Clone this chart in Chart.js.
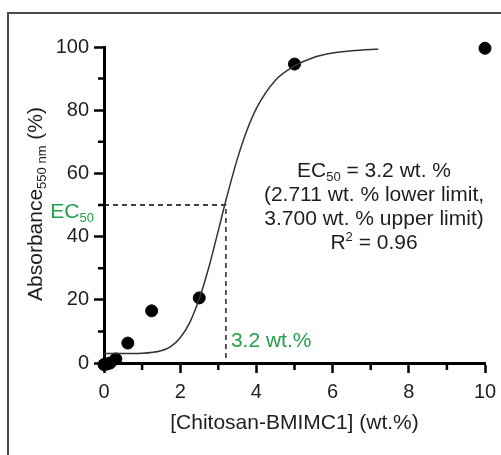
<!DOCTYPE html>
<html>
<head>
<meta charset="utf-8">
<script src="https://cdn.jsdelivr.net/npm/chart.js@4"></script>
<style>
html,body{margin:0;padding:0;background:#fff;}
canvas{display:block;}
</style>
</head>
<body>
<canvas id="c" width="501" height="455"></canvas>
<script>
// ---- data ----
const concX = [0, 0.08, 0.16, 0.31, 0.625, 1.25, 2.5, 5, 10];
const absY  = [-0.5, -0.3, 0, 1.3, 6.3, 16.5, 20.6, 94.6, 99.6];
const fitX = [0, 0.5, 1, 1.5, 1.75, 2, 2.25, 2.5, 2.75, 3, 3.2, 3.5, 3.75, 4, 4.5, 5, 5.5, 6, 6.5, 7, 7.2];
const fitY = [3, 3, 3.1, 3.9, 5.2, 8, 12.8, 20.3, 30.2, 41.9, 51.5, 64.6, 73.6, 80.6, 89.5, 94, 96.7, 98.1, 98.8, 99.2, 99.3];
const ec50X = 3.2;
const ec50Y = 50;
const xTicks = [0, 2, 4, 6, 8, 10];
const yTicks = [0, 20, 40, 60, 80, 100];

const FONT = "'Liberation Sans', Arial, Helvetica, sans-serif";
const GREEN = '#22a04b';
const TXT = '#1e1e1e';

function drawRich(ctx, parts, x, y, align) {
  let w = 0;
  parts.forEach(p => { ctx.font = p.size + 'px ' + FONT; w += ctx.measureText(p.t).width; });
  let cx = align === 'center' ? x - w / 2 : (align === 'right' ? x - w : x);
  ctx.textAlign = 'left';
  ctx.textBaseline = 'alphabetic';
  parts.forEach(p => {
    ctx.font = p.size + 'px ' + FONT;
    ctx.fillText(p.t, cx, y + (p.dy || 0));
    cx += ctx.measureText(p.t).width;
  });
}

const decorPlugin = {
  id: 'decor',
  beforeDraw(chart) {
    const ctx = chart.ctx;
    ctx.save();
    ctx.strokeStyle = '#4a4a4a';
    ctx.lineWidth = 2;
    ctx.beginPath();
    ctx.moveTo(8, 455);
    ctx.lineTo(8, 13);
    ctx.lineTo(501, 13);
    ctx.stroke();
    ctx.restore();
  },
  afterDraw(chart) {
    const ctx = chart.ctx;
    const xs = chart.scales.x, ys = chart.scales.y;
    ctx.save();
    // minor ticks
    ctx.strokeStyle = '#000';
    ctx.lineWidth = 2.5;
    ctx.beginPath();
    for (let v = 10; v < 100; v += 20) {
      const py = ys.getPixelForValue(v);
      ctx.moveTo(xs.left - 6, py); ctx.lineTo(xs.left, py);
    }
    for (let v = 1; v < 10; v += 2) {
      const px = xs.getPixelForValue(v);
      ctx.moveTo(px, ys.bottom); ctx.lineTo(px, ys.bottom + 7);
    }
    ctx.stroke();

    // y title with subscript
    ctx.fillStyle = TXT;
    ctx.save();
    ctx.translate(42, 204);
    ctx.rotate(-Math.PI / 2);
    drawRich(ctx, [
      {t: 'Absorbance', size: 21},
      {t: '550 nm', size: 13, dy: 4},
      {t: ' (%)', size: 21}
    ], 0, 0, 'center');
    ctx.restore();

    // EC50 green label
    ctx.fillStyle = GREEN;
    const yEc = ys.getPixelForValue(ec50Y);
    drawRich(ctx, [{t: 'EC', size: 21}, {t: '50', size: 13, dy: 4}], xs.left - 10, yEc + 13, 'right');
    // 3.2 wt.% label
    drawRich(ctx, [{t: '3.2 wt.%', size: 21}], xs.getPixelForValue(ec50X) + 5, ys.getPixelForValue(7.5) + 8, 'left');

    // annotation block
    ctx.fillStyle = TXT;
    const cx = 374;
    drawRich(ctx, [{t: 'EC', size: 21}, {t: '50', size: 13, dy: 4}, {t: ' = 3.2 wt. %', size: 21}], cx, 177, 'center');
    drawRich(ctx, [{t: '(2.711 wt. % lower limit,', size: 21}], cx, 201, 'center');
    drawRich(ctx, [{t: '3.700 wt. % upper limit)', size: 21}], cx, 225, 'center');
    drawRich(ctx, [{t: 'R', size: 21}, {t: '2', size: 13, dy: -8}, {t: ' = 0.96', size: 21}], cx, 249, 'center');
    ctx.restore();
  }
};

const tickFont = {family: FONT, size: 20};

new Chart(document.getElementById('c'), {
  type: 'scatter',
  data: {
    datasets: [
      {
        label: 'fit',
        type: 'line',
        data: fitX.map((x, i) => ({x, y: fitY[i]})),
        borderColor: '#333',
        borderWidth: 1.5,
        pointRadius: 0,
        cubicInterpolationMode: 'monotone',
        fill: false,
        clip: false
      },
      {
        label: 'ec50',
        type: 'line',
        data: [{x: 0, y: ec50Y}, {x: ec50X, y: ec50Y}, {x: ec50X, y: 0}],
        borderColor: '#000',
        borderWidth: 1.3,
        borderDash: [5, 4],
        pointRadius: 0,
        tension: 0,
        fill: false
      },
      {
        label: 'data',
        data: concX.map((x, i) => ({x, y: absY[i]})),
        backgroundColor: '#000',
        borderColor: '#000',
        pointRadius: 6,
        pointHoverRadius: 6,
        clip: false
      }
    ]
  },
  options: {
    responsive: false,
    devicePixelRatio: 1,
    animation: false,
    events: [],
    layout: {padding: {left: 0, right: 16, top: 47, bottom: 0}},
    plugins: {legend: {display: false}, tooltip: {enabled: false}},
    scales: {
      x: {
        type: 'linear',
        min: 0, max: 10,
        afterFit: s => { s.height = 92; s.paddingLeft = 0; s.paddingRight = 0; },
        afterBuildTicks: s => { s.ticks = xTicks.map(v => ({value: v})); },
        grid: {drawOnChartArea: false, drawTicks: true, tickLength: 10, tickColor: '#000', tickWidth: 2.5},
        border: {display: true, color: '#000', width: 3},
        ticks: {font: tickFont, color: TXT, padding: 7, maxRotation: 0},
        title: {display: true, text: '[Chitosan-BMIMC1] (wt.%)', font: {family: FONT, size: 21}, color: TXT, padding: {top: 4, bottom: 19}}
      },
      y: {
        type: 'linear',
        min: 0, max: 100,
        afterFit: s => { s.width = 104; s.paddingTop = 0; s.paddingBottom = 0; },
        afterBuildTicks: s => { s.ticks = yTicks.map(v => ({value: v})); },
        grid: {drawOnChartArea: false, drawTicks: true, tickLength: 10, tickColor: '#000', tickWidth: 2.5},
        border: {display: true, color: '#000', width: 3},
        ticks: {font: tickFont, color: TXT, padding: 5}
      }
    }
  },
  plugins: [decorPlugin]
});
</script>
</body>
</html>
